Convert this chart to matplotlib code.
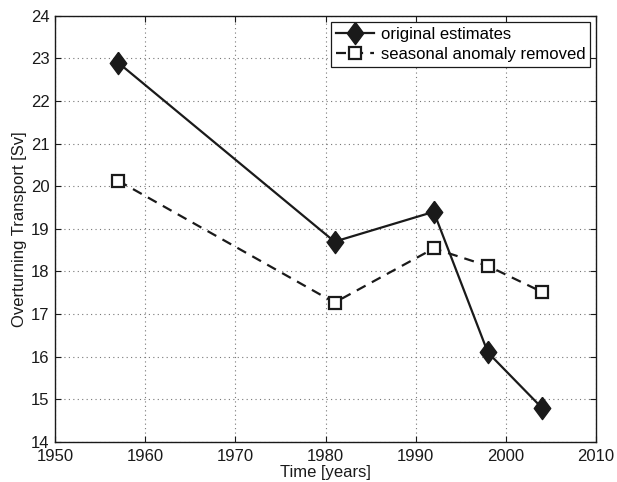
import matplotlib
matplotlib.use("Agg")
import matplotlib.pyplot as plt

plt.rcParams['font.family'] = ['Liberation Sans', 'DejaVu Sans']

years = [1957, 1981, 1992, 1998, 2004]
original_estimates = [22.9, 18.7, 19.4, 16.1, 14.8]
seasonal_removed = [20.13, 17.27, 18.54, 18.13, 17.52]

x_ticks = [1950, 1960, 1970, 1980, 1990, 2000, 2010]
y_ticks = [14, 15, 16, 17, 18, 19, 20, 21, 22, 23, 24]

fig = plt.figure(figsize=(6.17, 4.82), dpi=100)
ax = fig.add_axes([0.0891, 0.083, 0.877, 0.8844])

diamond = [(0, 1), (0.74, 0), (0, -1), (-0.74, 0), (0, 1)]
ink = '#1a1a1a'

ax.plot(years, original_estimates, color=ink, lw=1.6,
        marker=diamond, ms=16, mfc=ink, mec=ink,
        label='original estimates', zorder=3)
ax.plot(years, seasonal_removed, color=ink, lw=1.6,
        linestyle=(0, (4.5, 3.2)), marker='s', ms=9, mfc='white',
        mec=ink, mew=1.6, label='seasonal anomaly removed', zorder=3)

ax.set_xlim(1950, 2010)
ax.set_ylim(14, 24)
ax.set_xticks(x_ticks)
ax.set_yticks(y_ticks)
ax.grid(True, linestyle=(0, (1, 3)), color='#777777', lw=0.8)
ax.tick_params(direction='in', length=4, width=0.8, top=True, right=True,
               labelsize=12, colors=ink)
ax.tick_params(axis='x', pad=5)
ax.tick_params(axis='y', pad=4)
for s in ax.spines.values():
    s.set_linewidth(1.0)
    s.set_color(ink)

ax.set_xlabel('Time [years]', fontsize=12, labelpad=1, color=ink)
ax.set_ylabel('Overturning Transport [Sv]', fontsize=12, labelpad=3, color=ink)

leg = ax.legend(loc='upper right', fontsize=12, frameon=True, fancybox=False,
                edgecolor=ink, framealpha=1, handlelength=2.3,
                borderpad=0.3, labelspacing=0.3, handletextpad=0.4,
                borderaxespad=0.35)
leg.get_frame().set_linewidth(0.9)

fig.savefig('out.png', dpi=100)
